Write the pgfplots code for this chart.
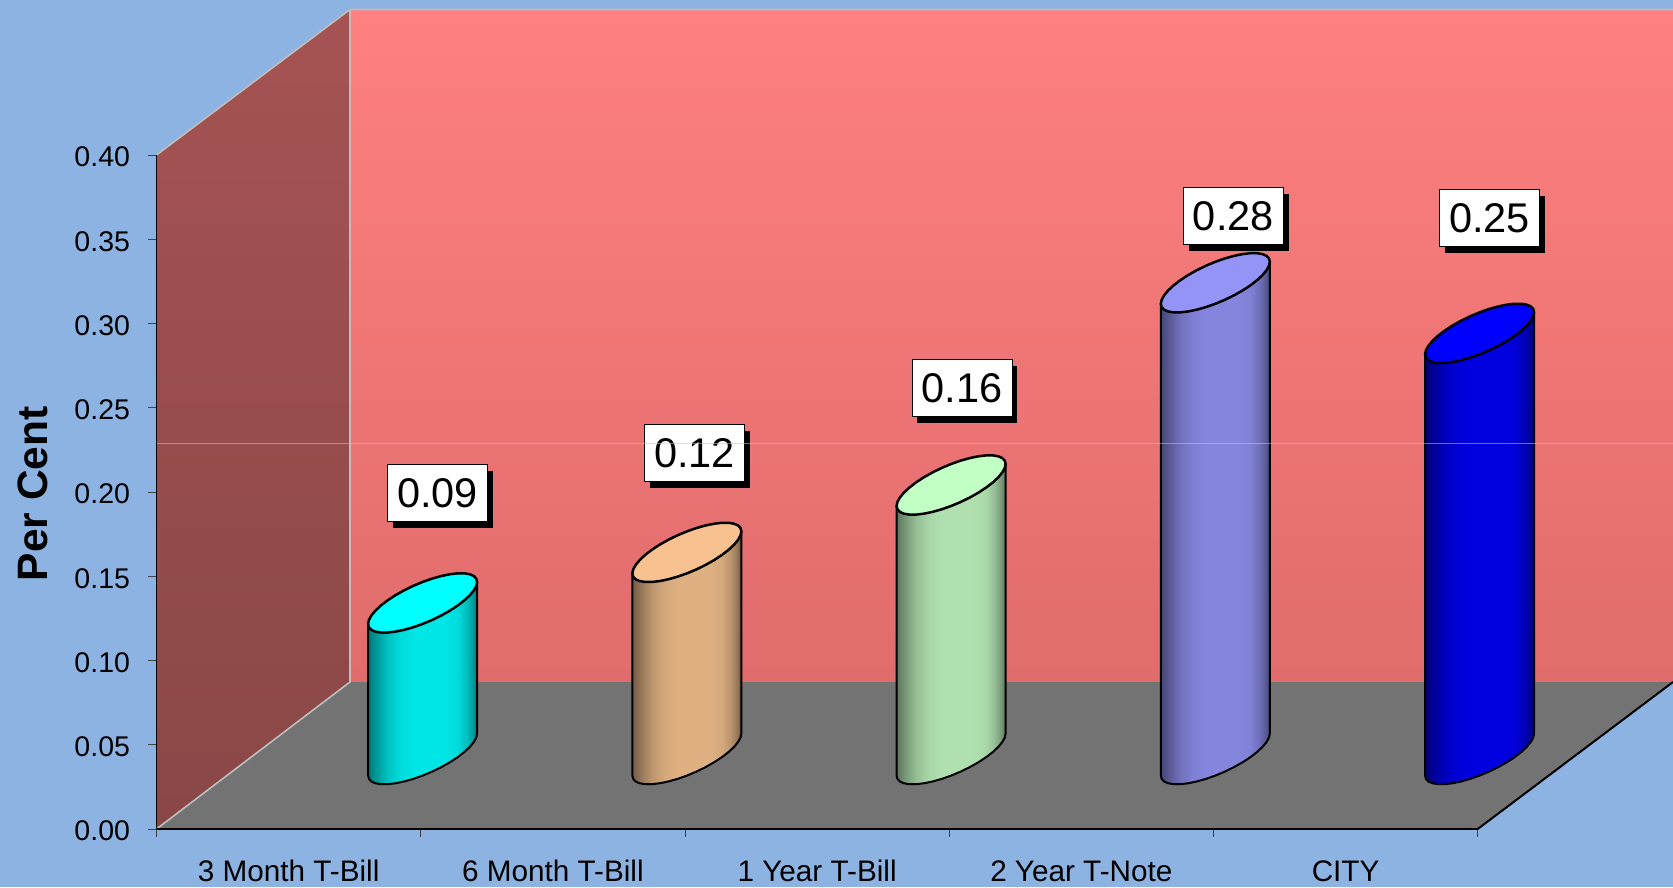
\documentclass[border=0pt]{standalone}
\usepackage{pgfplots}
\usepackage{pgfplotstable}
\usepackage{fontspec}
\setmainfont{Liberation Sans}
\pgfplotsset{compat=1.18}
\usetikzlibrary{shadows}

\definecolor{pagebg}{RGB}{141,179,226}
\definecolor{floorgray}{RGB}{115,115,115}
\definecolor{edgegray}{RGB}{190,190,190}

% Side shading of a cylinder: dark rims, flat lit centre
\newcommand{\declarebarshading}[2]{%
  \pgfdeclarehorizontalshading{#1}{100bp}{%
    color(0bp)=(#2!52!black); color(25bp)=(#2!52!black);
    color(29bp)=(#2!68!black); color(34bp)=(#2!85!black);
    color(40bp)=(#2!96!black); color(46bp)=(#2); color(60bp)=(#2);
    color(66bp)=(#2!96!black); color(70bp)=(#2!84!black);
    color(73bp)=(#2!68!black); color(75bp)=(#2!50!black);
    color(100bp)=(#2!50!black)}}
\definecolor{sideA}{RGB}{0,229,229}
\definecolor{sideB}{RGB}{222,176,130}
\definecolor{sideC}{RGB}{176,224,176}
\definecolor{sideD}{RGB}{133,133,222}
\definecolor{sideE}{RGB}{0,0,224}
\definecolor{topA}{RGB}{0,255,255}
\definecolor{topB}{RGB}{247,194,144}
\definecolor{topC}{RGB}{194,255,196}
\definecolor{topD}{RGB}{148,148,247}
\definecolor{topE}{RGB}{0,0,255}
\declarebarshading{barA}{sideA}
\declarebarshading{barB}{sideB}
\declarebarshading{barC}{sideC}
\declarebarshading{barD}{sideD}
\declarebarshading{barE}{sideE}

% Outline of the cylinder wall, offsets in points; lift=1 rides on the value
\pgfplotstableread{
dx dy lift
-54.5 -21 1
54.5 21 1
54.5 21 0
53.67 17.04 0
51.21 12.55 0
47.2 7.69 0
41.75 2.59 0
35.03 -2.59 0
27.25 -7.69 0
18.64 -12.55 0
9.46 -17.04 0
0 -21 0
-9.46 -24.33 0
-18.64 -26.91 0
-27.25 -28.69 0
-35.03 -29.59 0
-41.75 -29.59 0
-47.2 -28.69 0
-51.21 -26.91 0
-53.67 -24.33 0
-54.5 -21 0
}\wallshape

% Tilted elliptical cap
\pgfplotstableread{
dx dy
54.5 21
53.67 24.33
51.21 26.91
47.2 28.69
41.75 29.59
35.03 29.59
27.25 28.69
18.64 26.91
9.46 24.33
0 21
-9.46 17.04
-18.64 12.55
-27.25 7.69
-35.03 2.59
-41.75 -2.59
-47.2 -7.69
-51.21 -12.55
-53.67 -17.04
-54.5 -21
-53.67 -24.33
-51.21 -26.91
-47.2 -28.69
-41.75 -29.59
-35.03 -29.59
-27.25 -28.69
-18.64 -26.91
-9.46 -24.33
0 -21
9.46 -17.04
18.64 -12.55
27.25 -7.69
35.03 -2.59
41.75 2.59
47.2 7.69
51.21 12.55
53.67 17.04
}\capshape

% #1 position, #2 value, #3 shading, #4 cap colour, #5/#6 label offset
\newcommand{\cylinder}[6]{%
  \addplot[xshift=134pt,yshift=74.4pt,black,line width=2pt,line join=round,
           shade,shading=#3]
    table[x expr={\thisrow{dx}/264.24+#1},y expr={\thisrow{dy}/1685+#2*\thisrow{lift}}]
    {\wallshape} -- cycle;
  \addplot[xshift=134pt,yshift=74.4pt,black,line width=2.5pt,line join=round,fill=#4]
    table[x expr={\thisrow{dx}/264.24+#1},y expr={\thisrow{dy}/1685+#2}]
    {\capshape} -- cycle;
  \node[xshift=134pt+#5,yshift=74.4pt+#6,draw=black,line width=1pt,fill=white,
        minimum width=100pt,minimum height=57pt,inner sep=0pt,
        font=\fontsize{41.5}{41.5}\selectfont,
        general shadow={fill=black,shadow xshift=5.3pt,shadow yshift=-6.5pt,opacity=1}]
    at (axis cs:#1,#2) {\raisebox{-2pt}{#2}};
}

\begin{document}
\begin{tikzpicture}
\path[use as bounding box,fill=pagebg] (0,0) rectangle (1673pt,887pt);

% Chart box: walls and floor, in page points measured from the top left
\begin{scope}[x=1pt,y=-1pt,yshift=887pt]
  \shade[top color={rgb,255:red,255;green,128;blue,128},
         middle color={rgb,255:red,243;green,120;blue,120},
         bottom color={rgb,255:red,224;green,108;blue,108}]
    (350,9.5) rectangle (1673,682);
  \shade[top color={rgb,255:red,166;green,83;blue,83},
         bottom color={rgb,255:red,138;green,71;blue,71}]
    (156.5,155) -- (350,9.5) -- (350,682) -- (156.5,829) -- cycle;
  \fill[floorgray] (156.5,829) -- (1477.7,829) -- (1673,682) -- (350,682) -- cycle;
  \draw[edgegray,line width=1.6pt] (156.5,829) -- (350,682) -- (350,9.5);
  \draw[edgegray,line width=1.6pt] (156.5,155) -- (350,9.5) -- (1673,9.5);
  \draw[black,line width=2pt] (1477.7,829) -- (1673,682);
\end{scope}

\begin{axis}[
  at={(156.5pt,58pt)},anchor=south west,
  scale only axis,width=1321.2pt,height=674pt,
  xmin=-0.5,xmax=4.5,ymin=0,ymax=0.40,
  clip=false,
  axis x line*=bottom,axis y line*=left,
  x axis line style={-,line width=2.6pt},
  y axis line style={-,line width=1.5pt},
  xtick={0,1,2,3,4},
  xticklabels={3 Month T-Bill,6 Month T-Bill,1 Year T-Bill,2 Year T-Note,CITY},
  minor xtick={-0.5,0.5,1.5,2.5,3.5,4.5},
  ytick={0,0.05,0.10,0.15,0.20,0.25,0.30,0.35,0.40},
  tick align=outside,
  major tick length=9pt,minor tick length=8pt,
  major x tick style={draw=none},
  minor x tick style={black!75,line width=0.9pt},
  y tick style={black!75,line width=0.9pt},
  xticklabel style={font=\fontsize{29.7}{29.7}\selectfont,anchor=base,yshift=-43pt},
  yticklabel style={font=\fontsize{28.5}{28.5}\selectfont,xshift=-14pt,yshift=-2pt,
    /pgf/number format/fixed,/pgf/number format/fixed zerofill,
    /pgf/number format/precision=2,/pgf/number format/assume math mode=true},
  ylabel={Per Cent},
  every axis y label/.style={at={(axis description cs:-0.0938,0.4975)},rotate=90,
    anchor=center,font=\bfseries\fontsize{42.5}{42.5}\selectfont},
]
\cylinder{0}{0.09}{barA}{topA}{15pt}{110pt}
\cylinder{1}{0.12}{barB}{topB}{7.7pt}{99.4pt}
\cylinder{2}{0.16}{barC}{topC}{11pt}{97pt}
\cylinder{3}{0.28}{barD}{topD}{18pt}{67pt}
\cylinder{4}{0.25}{barE}{topE}{10pt}{115pt}
\end{axis}

% Hairline across the plot area
\draw[white!75!blue,opacity=0.55,line width=0.8pt] (156.5pt,443.5pt) -- (1673pt,443.5pt);
\end{tikzpicture}
\end{document}
